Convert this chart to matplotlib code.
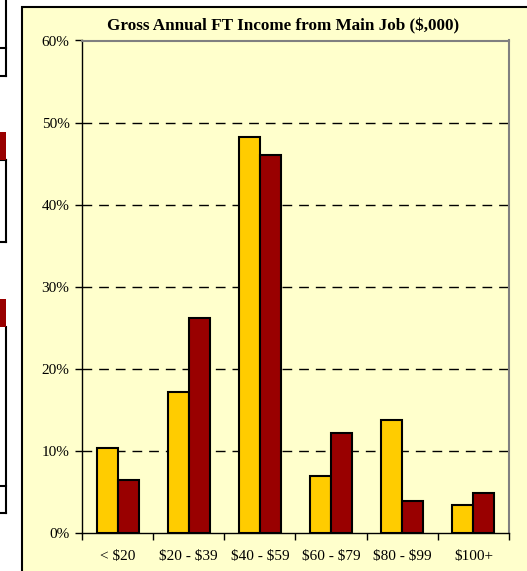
import numpy as np
import matplotlib
matplotlib.use("Agg")
import matplotlib.pyplot as plt
from matplotlib.patches import Rectangle
from matplotlib.lines import Line2D

categories = ["< $20", "$20 - $39", "$40 - $59", "$60 - $79", "$80 - $99", "$100+"]
series_a = [10.3, 17.2, 48.2, 6.9, 13.8, 3.4]   # yellow
series_b = [6.5, 26.2, 46.0, 12.2, 3.9, 4.9]    # dark red
yticks = [0, 10, 20, 30, 40, 50, 60]

W, H = 527, 571
plt.rcParams['font.family'] = ['Liberation Serif', 'DejaVu Serif']
plt.rcParams['text.parse_math'] = False

fig = plt.figure(figsize=(W / 100, H / 100), dpi=100)
fig.patch.set_facecolor('white')

def fx(x):
    return x / W

def fy(y):
    return 1 - y / H

# chart frame (extends past the right and bottom edge)
fig.patches.append(Rectangle((fx(22), fy(600)), fx(520), fy(7) - fy(600),
                             transform=fig.transFigure, facecolor='#FFFFCC',
                             edgecolor='black', linewidth=1.5, zorder=-1))

# fragments of a neighbouring table at the left edge
for (y0, y1) in [(132, 160), (299, 327)]:
    fig.patches.append(Rectangle((0, fy(y1)), fx(6), fy(y0) - fy(y1),
                                 transform=fig.transFigure, facecolor='#990000',
                                 edgecolor='none', zorder=-1))
segs = [((6, 0), (6, 76)), ((0, 48), (6, 48)), ((0, 76), (6, 76)),
        ((6, 160), (6, 242)), ((0, 242), (6, 242)), ((0, 160), (6, 160)),
        ((6, 327), (6, 513)), ((0, 486), (6, 486)), ((0, 513), (6, 513))]
for (a, b) in segs:
    fig.lines.append(Line2D([fx(a[0]), fx(b[0])], [fy(a[1]), fy(b[1])],
                            transform=fig.transFigure, color='black', linewidth=1.5,
                            zorder=-1))

ax = fig.add_axes([fx(82), fy(533), fx(509) - fx(82), fy(40.5) - fy(533)])
ax.set_zorder(2)
ax.set_facecolor('#FFFFCC')

x = np.arange(len(categories))
bw = 0.295
ax.bar(x - bw / 2, series_a, bw, color='#FFCC00', edgecolor='black', linewidth=1.5, zorder=3)
ax.bar(x + bw / 2, series_b, bw, color='#990000', edgecolor='black', linewidth=1.5, zorder=3)

ax.set_xlim(-0.5, len(categories) - 0.5)
ax.set_ylim(0, 60)
ax.set_yticks(yticks)
ax.set_yticklabels([f"{v}%" for v in yticks], fontsize=11)
for v in yticks[1:-1]:
    ax.axhline(v, color='black', linewidth=1, linestyle=(0, (7, 5)), zorder=1)

ax.set_xticks(np.arange(len(categories) + 1) - 0.5)
ax.set_xticklabels([])
ax.set_xticks(x, minor=True)
ax.set_xticklabels(categories, minor=True, fontsize=11)
ax.tick_params(axis='x', which='minor', length=0, pad=12)
ax.tick_params(axis='x', which='major', length=5, width=1, direction='out')
ax.tick_params(axis='y', length=5, width=1, direction='out', pad=4)

for s in ['top', 'right']:
    ax.spines[s].set_color('#808080')
    ax.spines[s].set_linewidth(1.5)
for s in ['left', 'bottom']:
    ax.spines[s].set_color('black')
    ax.spines[s].set_linewidth(1)

fig.text(fx(283), fy(30), "Gross Annual FT Income from Main Job ($,000)",
         ha='center', va='baseline', fontsize=12.3, fontweight='bold', zorder=3)

fig.savefig("out.png", dpi=100)
